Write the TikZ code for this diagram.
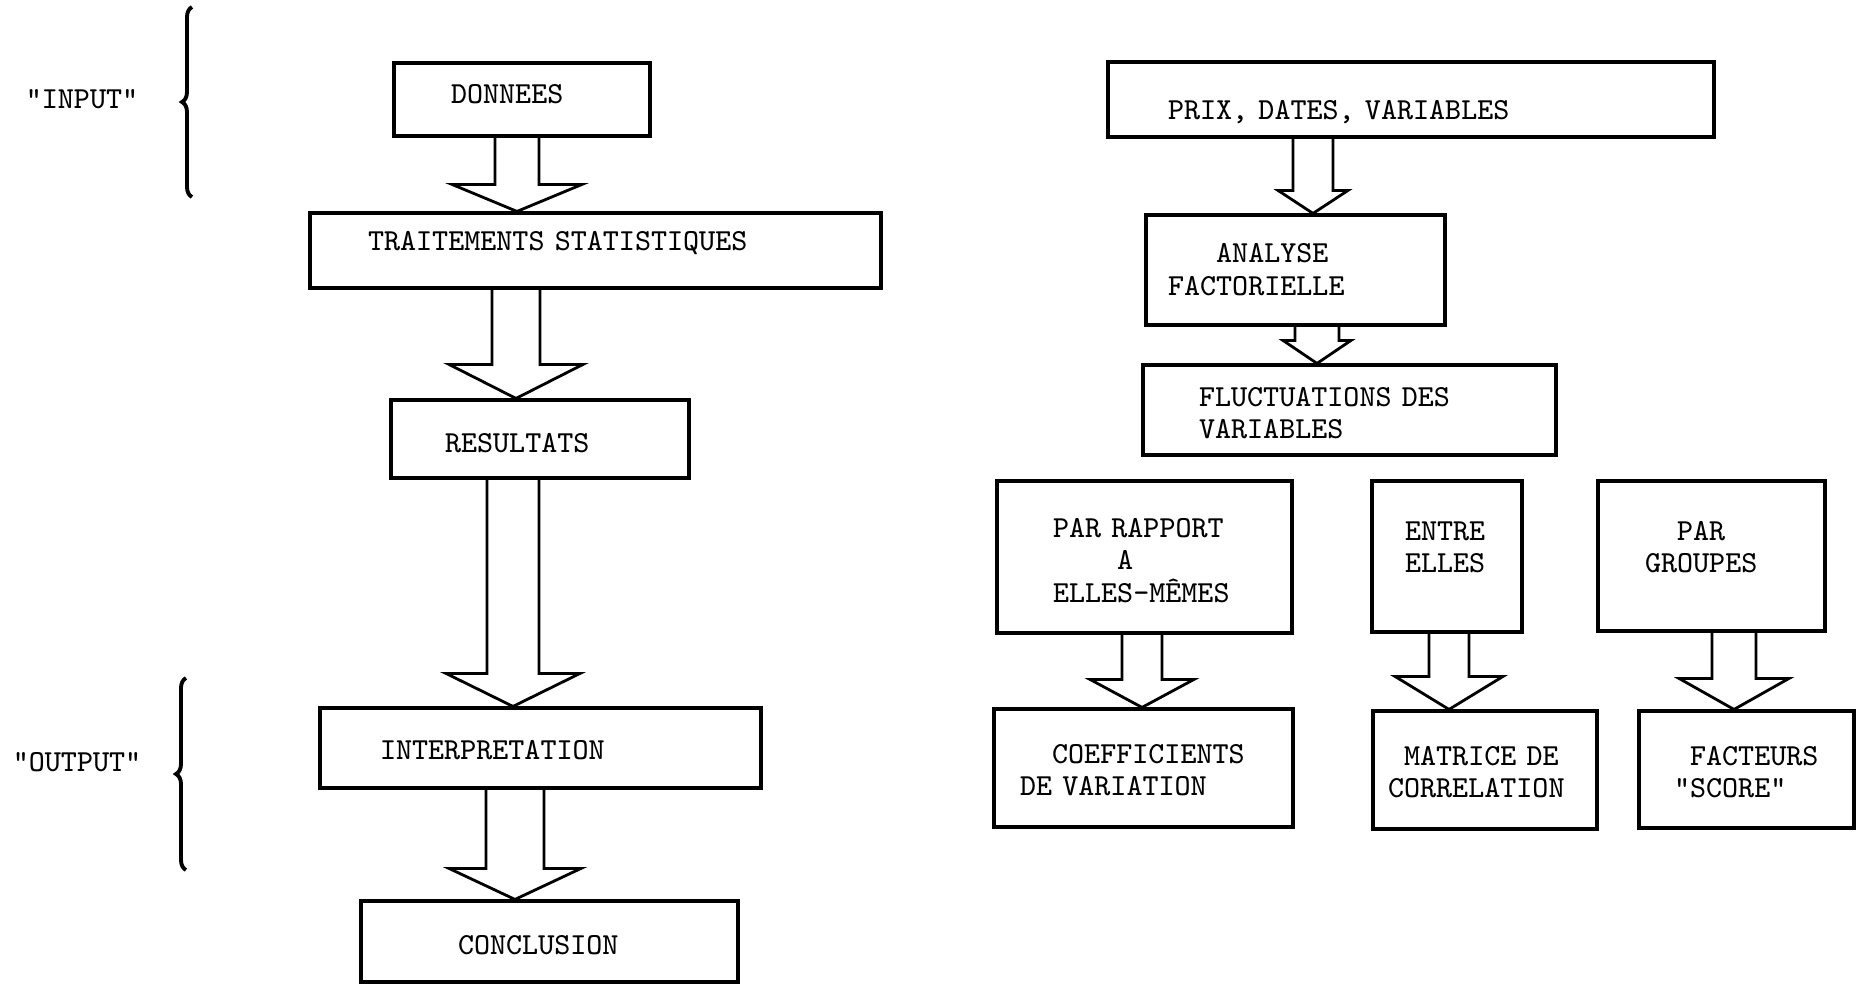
\documentclass[tikz,border=0pt]{standalone}
\usepackage{tikz}
\usetikzlibrary{calc,decorations.pathreplacing}

% hollow block arrow: axis x, source, target, shaft half-width, head half-width, head height
\newcommand{\blockarrow}[6]{%
  \draw[flow] let \p1=(#2.south), \p2=(#3.north) in
    ({#1cm-#4cm},\y1) -- ({#1cm-#4cm},{\y2+#6cm}) -- ({#1cm-#5cm},{\y2+#6cm})
    -- (#1cm,\y2) -- ({#1cm+#5cm},{\y2+#6cm}) -- ({#1cm+#4cm},{\y2+#6cm})
    -- ({#1cm+#4cm},\y1);
}

\begin{document}
\begin{tikzpicture}[
  box/.style={draw, line width=0.9pt, inner sep=0pt, align=left,
    text height=0.18cm, text depth=0cm,
    font=\fontsize{8.7pt}{9.24pt}\selectfont\ttfamily},
  tag/.style={font=\fontsize{8.7pt}{9.24pt}\selectfont\ttfamily},
  flow/.style={line width=0.8pt, line join=miter},
  curly/.style={line width=1.1pt, decorate, decoration={brace, amplitude=0.1cm}}
]
  \useasboundingbox (0,0) rectangle (18.59,-9.84);

  % Left column
  \node[box, minimum width=2.56cm, minimum height=0.73cm, text width=1.42cm, text depth=0.11cm] (donnees) at (5.22,-0.995) {DONNEES};
  \node[box, minimum width=5.71cm, minimum height=0.75cm, text width=4.55cm, text depth=0.19cm] (traitements) at (5.955,-2.505) {TRAITEMENTS STATISTIQUES};
  \node[box, minimum width=2.98cm, minimum height=0.78cm, text width=1.90cm, text height=0.27cm] (resultats) at (5.40,-4.39) {RESULTATS};
  \node[box, minimum width=4.41cm, minimum height=0.80cm, text width=3.21cm, text height=0.22cm] (interp) at (5.405,-7.48) {INTERPRETATION};
  \node[box, minimum width=3.77cm, minimum height=0.81cm, text width=1.83cm, text height=0.25cm] (conclusion) at (5.495,-9.415) {CONCLUSION};

  % Right column
  \node[box, minimum width=6.06cm, minimum height=0.75cm, text width=4.86cm, text height=0.40cm] (prix) at (14.11,-0.995) {PRIX, DATES, VARIABLES};
  \node[box, minimum width=2.99cm, minimum height=1.10cm, text width=2.55cm, text depth=0.325cm] (analyse) at (12.955,-2.70) {\phantom{XXX}ANALYSE\\FACTORIELLE};
  \node[box, minimum width=4.13cm, minimum height=0.90cm, text width=3.01cm, text depth=0.255cm] (fluct) at (13.495,-4.10) {FLUCTUATIONS DES\\VARIABLES};

  \node[box, minimum width=2.95cm, minimum height=1.52cm, text width=1.83cm, text depth=0.57cm] (rapport) at (11.445,-5.57) {PAR RAPPORT\\\phantom{XXXX}A\\ELLES-MÊMES};
  \node[box, minimum width=1.50cm, minimum height=1.51cm, text width=0.84cm, text depth=0.505cm] (entre) at (14.47,-5.565) {ENTRE\\ELLES};
  \node[box, minimum width=2.27cm, minimum height=1.50cm, text width=1.33cm, text depth=0.495cm] (groupes) at (17.115,-5.56) {\phantom{XX}PAR\\GROUPES};

  \node[box, minimum width=2.99cm, minimum height=1.18cm, text width=2.47cm, text depth=0.275cm] (coeff) at (11.435,-7.68) {\phantom{XX}COEFFICIENTS\\DE VARIATION};
  \node[box, minimum width=2.24cm, minimum height=1.18cm, text width=1.94cm, text depth=0.275cm] (matrice) at (14.85,-7.70) {\phantom{X}MATRICE DE\\CORRELATION};
  \node[box, minimum width=2.15cm, minimum height=1.17cm, text width=1.45cm, text depth=0.265cm] (facteurs) at (17.465,-7.695) {\phantom{X}FACTEURS\\"SCORE"};

  % Side labels
  \node[tag] (input) at (0.82,-0.99) {"INPUT"};
  \node[tag] (output) at (0.77,-7.62) {"OUTPUT"};
  \draw[curly] (1.92,-1.97) -- (1.92,-0.07);
  \draw[curly] (1.86,-8.70) -- (1.86,-6.78);

  % Arrows
  \blockarrow{5.17}{donnees}{traitements}{0.22}{0.65}{0.27}
  \blockarrow{5.16}{traitements}{resultats}{0.24}{0.67}{0.34}
  \blockarrow{5.13}{resultats}{interp}{0.26}{0.67}{0.33}
  \blockarrow{5.15}{interp}{conclusion}{0.29}{0.66}{0.31}
  \blockarrow{13.13}{prix}{analyse}{0.20}{0.35}{0.23}
  \blockarrow{13.17}{analyse}{fluct}{0.22}{0.34}{0.23}
  \blockarrow{11.42}{rapport}{coeff}{0.20}{0.52}{0.28}
  \blockarrow{14.49}{entre}{matrice}{0.20}{0.54}{0.33}
  \blockarrow{17.34}{groupes}{facteurs}{0.22}{0.55}{0.31}
\end{tikzpicture}
\end{document}
